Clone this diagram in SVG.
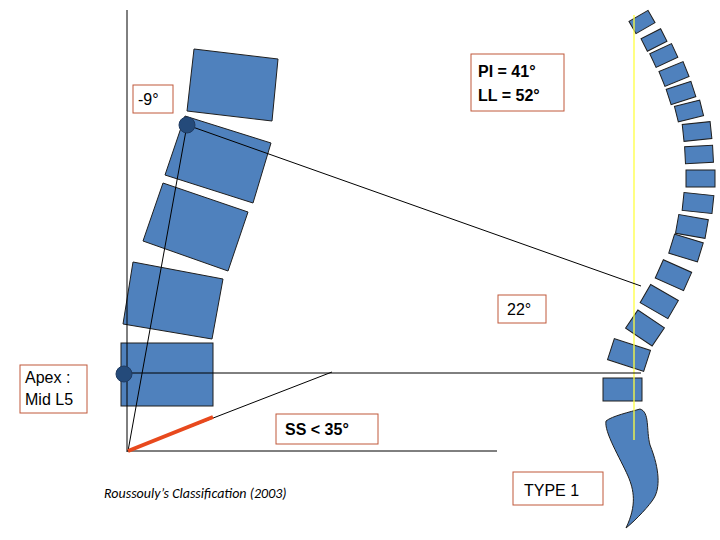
<svg xmlns="http://www.w3.org/2000/svg" width="720" height="540" viewBox="0 0 720 540">
<style>
.v{fill:#4f81bd;stroke:#1f1f1f;stroke-width:1}
.b{fill:#fff;stroke:#c0583a;stroke-width:1}
.t{font-family:"Liberation Sans",Arial,sans-serif;font-size:16px;fill:#000}
.ln{stroke:#000;stroke-width:1;fill:none}
</style>
<rect width="720" height="540" fill="#fff"/>
<g id="lumbar">
<polygon class="v" points="194,49 278,59 272,121 187,111"/>
<polygon class="v" points="185,116 271,143 253,203 165,175"/>
<polygon class="v" points="163,183 248,212 228,271 143,241"/>
<polygon class="v" points="133,262 223,279 212,339 123,324"/>
<rect class="v" x="121" y="343" width="92" height="63"/>
</g>
<g id="spine">
<rect class="v" x="-11" y="-7" width="22" height="14" transform="translate(642,22) rotate(-30)"/>
<rect class="v" x="-11" y="-7" width="22" height="14" transform="translate(654,40) rotate(-27)"/>
<rect class="v" x="-12" y="-8" width="24" height="15" transform="translate(664,56) rotate(-25)"/>
<rect class="v" x="-13" y="-8" width="26" height="16" transform="translate(674,74) rotate(-22)"/>
<rect class="v" x="-13" y="-8" width="26" height="16" transform="translate(681,93) rotate(-18)"/>
<rect class="v" x="-13" y="-8" width="26" height="16" transform="translate(689,111) rotate(-14)"/>
<rect class="v" x="-14" y="-8" width="28" height="17" transform="translate(697,131) rotate(-6)"/>
<rect class="v" x="-14" y="-8" width="28" height="17" transform="translate(699,154) rotate(-3)"/>
<rect class="v" x="-14" y="-9" width="29" height="17" transform="translate(700,179)"/>
<rect class="v" x="-15" y="-9" width="30" height="18" transform="translate(698,203) rotate(6)"/>
<rect class="v" x="-15" y="-9" width="30" height="19" transform="translate(692,226) rotate(10)"/>
<rect class="v" x="-15" y="-10" width="30" height="20" transform="translate(686,248) rotate(17)"/>
<rect class="v" x="-15" y="-10" width="31" height="20" transform="translate(673,275) rotate(24)"/>
<rect class="v" x="-16" y="-11" width="32" height="21" transform="translate(659,302) rotate(30)"/>
<rect class="v" x="-16" y="-11" width="32" height="22" transform="translate(645,328) rotate(34)"/>
<rect class="v" x="-19" y="-11" width="38" height="22" transform="translate(629,355) rotate(18)"/>
<rect class="v" x="603" y="378" width="39" height="23"/>
<path class="v" d="M640,409 C630,412 612,416 606,421 C604,432 620,458 628,476 C634,490 637,505 626,528 C636,520 650,505 654,498 C660,488 660,470 650,445 C646,430 650,412 640,409 Z"/>
<line x1="634" y1="15" x2="634" y2="440" stroke="#ffff40" stroke-width="1.3"/>
</g>
<g id="connectors">
<line class="ln" x1="127" y1="10" x2="127" y2="452"/>
<line class="ln" x1="127" y1="451" x2="497" y2="451"/>
<line class="ln" x1="128" y1="451" x2="187" y2="125"/>
<line class="ln" x1="187" y1="125" x2="641" y2="286" stroke-width="2"/>
<line class="ln" x1="124" y1="373" x2="641" y2="373"/>
<line class="ln" x1="128" y1="451" x2="332" y2="372" stroke-width="1.5"/>
<line x1="128" y1="451" x2="213" y2="417" stroke="#e8491d" stroke-width="4"/>
</g>
<g id="points">
<circle cx="187" cy="125" r="8" fill="#244a7a" stroke="#1f3a60"/>
<circle cx="124" cy="374" r="8" fill="#244a7a" stroke="#1f3a60"/>
</g>
<g id="label-9"><rect class="b" x="133" y="85" width="40" height="28"/><text class="t" x="138" y="105">-9°</text></g>
<g id="label-pi"><rect class="b" x="471" y="54" width="93" height="57"/><text class="t" x="478" y="77" font-weight="bold">PI = 41°</text><text class="t" x="478" y="101" font-weight="bold">LL = 52°</text></g>
<g id="label-22"><rect class="b" x="498" y="295" width="48" height="28"/><text class="t" x="507" y="315">22°</text></g>
<g id="label-apex"><rect class="b" x="20" y="365" width="67" height="48"/><text class="t" x="25" y="383">Apex :</text><text class="t" x="25" y="405">Mid L5</text></g>
<g id="label-ss"><rect class="b" x="276" y="414" width="102" height="30"/><text class="t" x="285" y="435" font-weight="bold">SS &lt; 35°</text></g>
<g id="label-type"><rect class="b" x="513" y="472" width="90" height="33"/><text class="t" x="524" y="496" font-size="17">TYPE 1</text></g>
<text x="104" y="498" font-family="Carlito,'Liberation Sans',sans-serif" font-style="italic" font-size="14">Roussouly’s Classification (2003)</text>
</svg>
